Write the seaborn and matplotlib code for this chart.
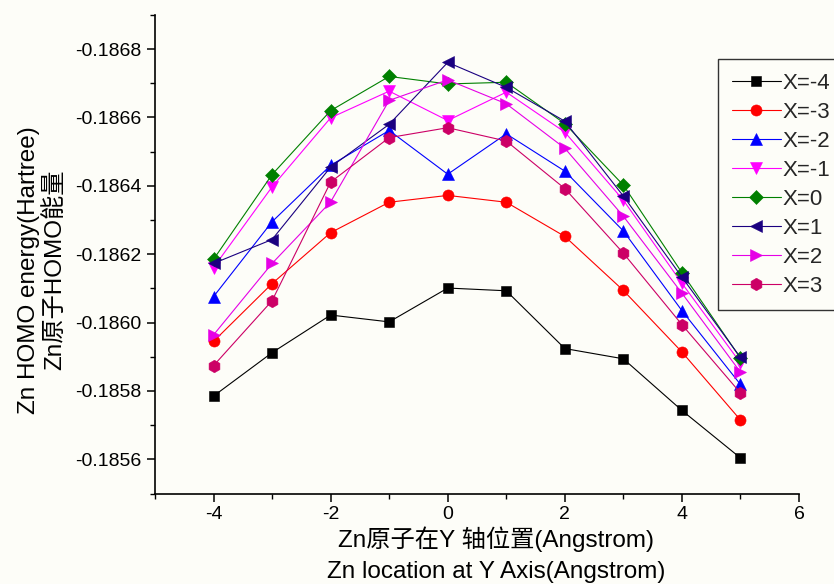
import matplotlib
matplotlib.use("Agg")
import matplotlib.pyplot as plt
from matplotlib.ticker import MultipleLocator, FixedLocator, FormatStrFormatter
import numpy as np
import pandas as pd
import seaborn as sns

# Zn position along the Y axis (Angstrom)
y_pos = [-4, -3, -2, -1, 0, 1, 2, 3, 4, 5]

# Zn HOMO energy (Hartree) for each X position of the Zn atom
e_xm4 = [-0.185785, -0.185912, -0.186022, -0.186002, -0.186101, -0.186093, -0.185924, -0.185894, -0.185743, -0.185604]
e_xm3 = [-0.185945, -0.186114, -0.186263, -0.186352, -0.186372, -0.186352, -0.186252, -0.186094, -0.185914, -0.185715]
e_xm2 = [-0.186076, -0.186295, -0.186460, -0.186562, -0.186434, -0.186552, -0.186443, -0.186268, -0.186035, -0.185819]
e_xm1 = [-0.186161, -0.186397, -0.186599, -0.186677, -0.186591, -0.186674, -0.186557, -0.186358, -0.186115, -0.185882]
e_x0 = [-0.186185, -0.186433, -0.186620, -0.186720, -0.186698, -0.186703, -0.186582, -0.186402, -0.186146, -0.185896]
e_x1 = [-0.186173, -0.186243, -0.186455, -0.186580, -0.186761, -0.186688, -0.186589, -0.186370, -0.186133, -0.185898]
e_x2 = [-0.185964, -0.186173, -0.186353, -0.186650, -0.186710, -0.186640, -0.186510, -0.186311, -0.186086, -0.185855]
e_x3 = [-0.185874, -0.186064, -0.186411, -0.186541, -0.186570, -0.186531, -0.186392, -0.186203, -0.185994, -0.185794]

series_labels = ["X=-4", "X=-3", "X=-2", "X=-1", "X=0", "X=1", "X=2", "X=3"]
series_values = [e_xm4, e_xm3, e_xm2, e_xm1, e_x0, e_x1, e_x2, e_x3]

y_tick_values = [-0.1868, -0.1866, -0.1864, -0.1862, -0.1860, -0.1858, -0.1856]
x_tick_values = [-4, -2, 0, 2, 4, 6]

# styling per series
colors = ["#000000", "#FF0000", "#0000FF", "#FF00FF", "#008000", "#1A0080", "#E600E6", "#CC0066"]
markers = ["s", "o", "^", "v", "D", "<", ">", "h"]
msizes = [7.5, 8, 9, 9, 7.3, 9, 9, 9]

sns.set_style("ticks")
plt.rcParams["font.family"] = ["Liberation Sans", "Noto Sans CJK SC", "DejaVu Sans"]
plt.rcParams["axes.unicode_minus"] = False

bg = "#FDFDF8"
fig = plt.figure(figsize=(8.34, 5.84), dpi=100, facecolor=bg)
W, H = 834, 584
ax_l, ax_r, ax_t, ax_b = 155, 799, 14.9, 493.5
ax = fig.add_axes([ax_l / W, (H - ax_b) / H, (ax_r - ax_l) / W, (ax_b - ax_t) / H])
ax.set_facecolor(bg)

long = pd.DataFrame({
    "pos": np.tile(y_pos, len(series_labels)),
    "energy": np.concatenate(series_values),
    "series": np.repeat(series_labels, len(y_pos)),
})

for lab, col, mk, ms in zip(series_labels, colors, markers, msizes):
    sub = long[long["series"] == lab]
    sns.lineplot(data=sub, x="pos", y="energy", ax=ax, color=col, marker=mk,
                 markersize=ms, markeredgecolor=col, markeredgewidth=0.4,
                 linewidth=0.8, label=lab, sort=False)

ax.set_xlim(-5, 6)
ax.set_ylim(-0.1855, -0.1869)

ax.xaxis.set_major_locator(FixedLocator(x_tick_values))
ax.xaxis.set_minor_locator(MultipleLocator(1))
ax.yaxis.set_major_locator(FixedLocator(y_tick_values))
ax.yaxis.set_minor_locator(MultipleLocator(0.0001))
ax.yaxis.set_major_formatter(FormatStrFormatter("%.4f"))

for s in ["top", "right"]:
    ax.spines[s].set_visible(False)
for s in ["left", "bottom"]:
    ax.spines[s].set_linewidth(1.2)
    ax.spines[s].set_color("black")

ax.tick_params(axis="both", which="major", direction="out", length=6, width=1.1,
               labelsize=14, color="black", labelcolor="black")
ax.tick_params(axis="both", which="minor", direction="out", length=3.5, width=1.0, color="black")
ax.tick_params(axis="y", which="major", pad=4)
ax.tick_params(axis="x", which="major", pad=3)

ax.set_xlabel("")
ax.set_ylabel("")

label_font = dict(fontsize=17.5, color="black")
# x-axis title (two lines)
ax.text(0.53, (ax_b - 546.7) / (ax_b - ax_t), "Zn原子在Y 轴位置(Angstrom)",
        transform=ax.transAxes, ha="center", va="baseline", **label_font)
ax.text(0.53, (ax_b - 578.3) / (ax_b - ax_t), "Zn location at Y Axis(Angstrom)",
        transform=ax.transAxes, ha="center", va="baseline", **label_font)
# y-axis title (two lines)
yc = (ax_b - 270) / (ax_b - ax_t)
ax.text((35 - ax_l) / (ax_r - ax_l), yc, "Zn HOMO energy(Hartree)", rotation=90,
        rotation_mode="anchor", transform=ax.transAxes, ha="center", va="baseline", **label_font)
ax.text((61 - ax_l) / (ax_r - ax_l), yc, "Zn原子HOMO能量", rotation=90,
        rotation_mode="anchor", transform=ax.transAxes, ha="center", va="baseline", **label_font)

leg = ax.legend(loc="upper left", bbox_to_anchor=(718.3 / W, 1 - 59.3 / H),
                bbox_transform=fig.transFigure, borderaxespad=0, fontsize=16,
                frameon=True, fancybox=False, shadow=False, framealpha=1,
                handlelength=2.2, handletextpad=0.08, borderpad=0.6,
                labelspacing=0.36)
leg.get_frame().set_edgecolor("#333333")
leg.get_frame().set_linewidth(1.0)
leg.get_frame().set_facecolor(bg)

fig.savefig("out.png", dpi=100, facecolor=bg)
